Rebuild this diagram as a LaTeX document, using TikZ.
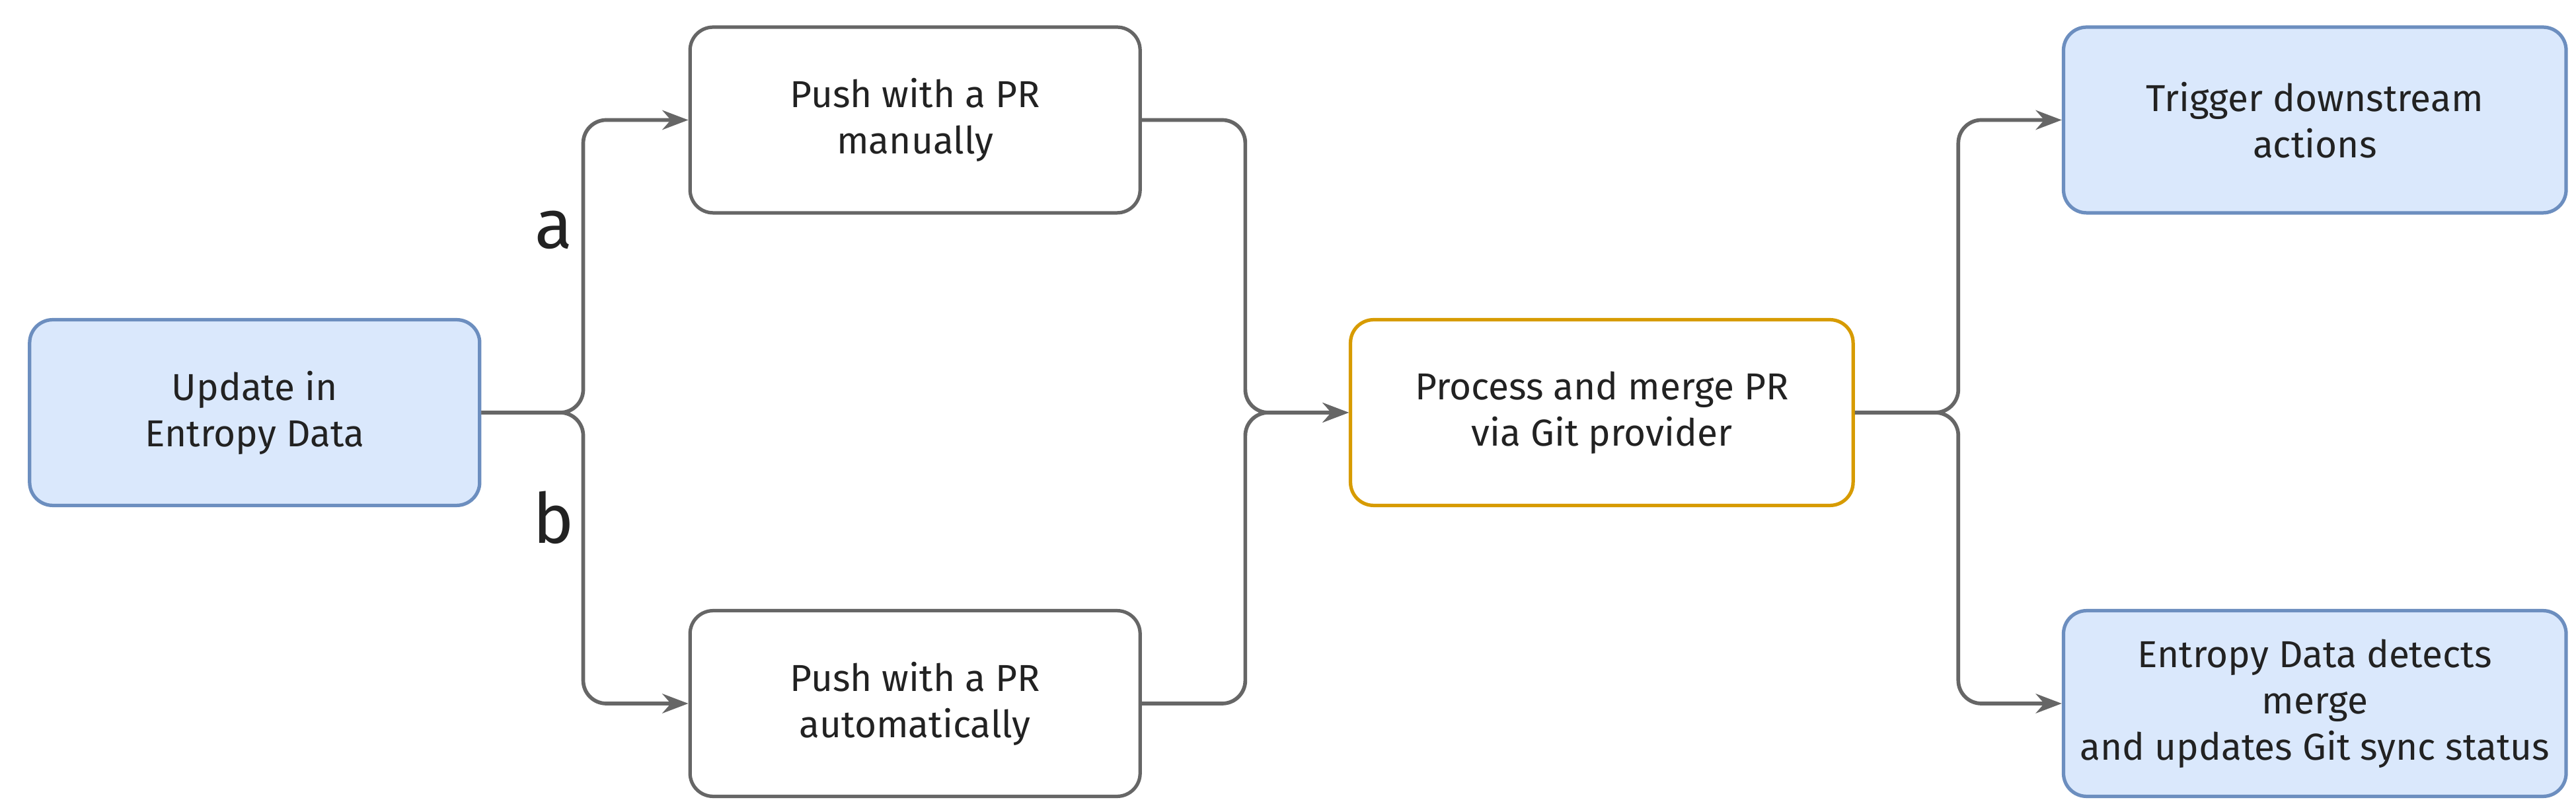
\documentclass[tikz,border=0pt]{standalone}
\usepackage{fontspec}
\setmainfont{Fira Sans}
\usetikzlibrary{arrows.meta}
\definecolor{bfill}{HTML}{DAE8FC}
\definecolor{bdraw}{HTML}{6C8EBF}
\definecolor{odraw}{HTML}{D79B00}
\definecolor{ln}{HTML}{666666}
\definecolor{tx}{HTML}{222222}
\begin{document}
\begin{tikzpicture}[x=0.02cm,y=-0.02cm,
  box/.style={draw=ln,line width=1.2pt,rounded corners=8pt,minimum width=5.48cm,minimum height=2.26cm,align=center,text=tx,font=\fontsize{13}{16}\selectfont},
  wbox/.style={box,minimum width=6.12cm},
  blue/.style={fill=bfill,draw=bdraw},
  conn/.style={draw=ln,line width=1.3pt,rounded corners=8pt,-{Stealth[length=9pt]}},
  lbl/.style={font=\fontsize{24}{28}\selectfont,text=tx}]
\useasboundingbox (0,0) rectangle (1568,490);
\node[box,blue] (upd) at (155,251) {Update in\\Entropy Data};
\node[box] (man) at (557,73) {Push with a PR\\manually};
\node[box] (aut) at (557,428) {Push with a PR\\automatically};
\node[wbox,draw=odraw] (proc) at (975,251) {Process and merge PR\\via Git provider};
\node[wbox,blue] (trig) at (1409,73) {Trigger downstream\\actions};
\node[wbox,blue] (det) at (1409,428) {Entropy Data detects\\merge\\and updates Git sync status};
\draw[conn] (upd.east) -| (355,73) -- (man.west);
\draw[conn] (upd.east) -| (355,428) -- (aut.west);
\draw[conn] (man.east) -| (758,251) -- (proc.west);
\draw[conn] (aut.east) -| (758,251) -- (proc.west);
\draw[conn] (proc.east) -| (1192,73) -- (trig.west);
\draw[conn] (proc.east) -| (1192,428) -- (det.west);
\node[lbl] (la) at (337,140) {a};
\node[lbl] (lb) at (337,315) {b};
\end{tikzpicture}
\end{document}
